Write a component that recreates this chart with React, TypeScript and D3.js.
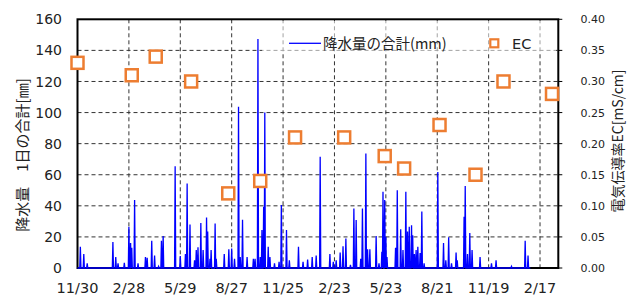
import React from "react";
import * as d3 from "d3";

// rainfall: day index since 2018-11-30 and daily total (mm); other days are 0
const startDate = "2018-11-30";
const endDate = "2021-03-21";
const rainLastDay = 793;
const rainDay = [
  5, 11, 17, 62, 67, 71, 82, 90, 93, 95, 100, 106, 119, 122, 130, 135,
  142, 147, 150, 171, 180, 189, 192, 197, 205, 208, 211, 216, 220, 226, 228, 232, 234, 241, 243, 257, 265, 270, 275,
  282, 285, 289, 297, 308, 311, 316, 320, 323, 326, 328, 334, 337, 345, 353, 357, 366, 371, 387, 395, 403, 411, 418,
  425, 442, 448, 453, 460, 465, 470, 478, 484, 488, 496, 499, 505, 508, 512, 523, 528, 533, 535, 538, 540, 542,
  557, 560, 566, 570, 575, 578, 581, 585, 587, 590, 593, 596, 600, 603, 607, 631, 641, 645, 650, 655, 663, 665,
  677, 679, 683, 687, 691, 705, 725, 733, 760, 784, 789,
];
const rainMm = [
  13.7, 9, 3, 16.7, 7, 3, 3.4, 26.5, 16, 13, 43.7, 3, 7, 6.5, 17.5, 8,
  1, 17.5, 20.5, 65.5, 7.7, 9, 54.4, 28, 5, 11.6, 13.3, 29, 11.6, 32.5, 23.5, 6, 11.6, 28.7, 6, 9, 12, 12.5, 6,
  103.7, 7, 31, 7, 6, 6, 147.4, 7, 24.4, 39.4, 100, 13.7, 7, 3, 4, 40.5, 24.4, 5, 13.7, 4, 5.5, 7, 8,
  71.5, 9, 4, 5, 10, 14, 19, 2, 38.3, 30.8, 6, 38.3, 73.7, 12, 12, 20.5, 3, 10.5, 49, 43.7, 20, 7,
  13, 50, 25, 11.6, 49, 23.5, 26.5, 27.5, 21, 9, 11.6, 13.7, 9.7, 36.4, 3, 61.7, 16, 5, 19.7, 3, 10, 5,
  33, 52.7, 9, 22.5, 11.6, 7, 3, 5, 1, 17.5, 8,
];

// EC samples
const ecDates = [
  "2018-11-30", "2019-03-05", "2019-04-16", "2019-06-17", "2019-08-21", "2019-10-16", "2019-12-16",
  "2020-03-11", "2020-05-21", "2020-06-24", "2020-08-25", "2020-10-27", "2020-12-15", "2021-03-10",
];
const ecValues = [0.33, 0.31, 0.34, 0.30, 0.12, 0.14, 0.21, 0.21, 0.18, 0.16, 0.23, 0.15, 0.30, 0.28];

const xTickDates = [
  "2018-11-30", "2019-02-28", "2019-05-29", "2019-08-27", "2019-11-25",
  "2020-02-23", "2020-05-23", "2020-08-21", "2020-11-19", "2021-02-17",
];
const leftTicks = [0, 20, 40, 60, 80, 100, 120, 140, 160];
const rightTicks = [0, 0.05, 0.1, 0.15, 0.2, 0.25, 0.3, 0.35, 0.4];

const parse = d3.timeParse("%Y-%m-%d");
const fmt = d3.timeFormat("%-m/%-d");
const latin = "'DejaVu Sans', 'Noto Sans CJK JP', sans-serif";
const cjk = "'Noto Sans CJK JP', 'DejaVu Sans', sans-serif";

export default function App() {
  const W = 627, H = 296;
  const left = 77.5, right = 558.3, top = 19.3, bottom = 268;

  const t0 = parse(startDate)!;
  const x = d3.scaleTime().domain([t0, parse(endDate)!]).range([left, right]);
  const yL = d3.scaleLinear().domain([0, 160]).range([bottom, top]);
  const yR = d3.scaleLinear().domain([0, 0.4]).range([bottom, top]);

  const rainMap = new Map(rainDay.map((d, i) => [d, rainMm[i]]));
  const daily = d3.range(rainLastDay + 1).map((d) => ({
    date: d3.timeDay.offset(t0, d),
    v: rainMap.get(d) ?? 0,
  }));
  const line = d3.line<{ date: Date; v: number }>()
    .x((d) => x(d.date))
    .y((d) => yL(d.v));

  const sq = 12;

  return (
    <svg width={W} height={H} style={{ position: "absolute", left: 0, top: 0, background: "#fff" }}>
      {/* grid */}
      {leftTicks.slice(1, -1).map((t) => (
        <line key={"h" + t} x1={left} x2={right} y1={yL(t)} y2={yL(t)}
          stroke="#333" strokeWidth={1} strokeDasharray="4,3" />
      ))}
      {xTickDates.slice(1).map((s) => (
        <line key={"v" + s} x1={x(parse(s)!)} x2={x(parse(s)!)} y1={top} y2={bottom}
          stroke="#333" strokeWidth={1} strokeDasharray="4,3" />
      ))}

      {/* legend backdrop */}
      <rect x={262} y={21} width={294} height={33} fill="#fff" opacity={0.55} />

      {/* frame */}
      <rect x={left} y={top} width={right - left} height={bottom - top} fill="none" stroke="#000" strokeWidth={2} />

      {/* rainfall */}
      <path d={line(daily) ?? ""} fill="none" stroke="#0000ff" strokeWidth={1.3} />

      {/* EC */}
      {ecDates.map((s, i) => (
        <rect key={s} x={x(parse(s)!) - sq / 2} y={yR(ecValues[i]) - sq / 2} width={sq} height={sq}
          fill="#fff" stroke="#ed7d31" strokeWidth={2.5} />
      ))}

      {/* left axis labels */}
      {leftTicks.map((t) => (
        <text key={"l" + t} x={62} y={yL(t)} dy="0.36em" textAnchor="end"
          fontFamily={latin} fontSize={14} fill="#222">{t}</text>
      ))}
      {/* right axis labels */}
      {rightTicks.map((t) => (
        <g key={"r" + t}>
          <line x1={right} x2={right + 4} y1={yR(t)} y2={yR(t)} stroke="#000" strokeWidth={1} />
          <text x={605} y={yR(t)} dy="0.36em" textAnchor="end"
            fontFamily={latin} fontSize={11} fill="#222">{t.toFixed(2)}</text>
        </g>
      ))}
      {/* x axis labels */}
      {xTickDates.map((s) => (
        <text key={"x" + s} x={x(parse(s)!)} y={287.5} dy="0.36em" textAnchor="middle"
          fontFamily={latin} fontSize={14.5} fill="#222">{fmt(parse(s)!)}</text>
      ))}

      {/* axis titles */}
      <text transform="translate(23,155) rotate(-90)" textAnchor="middle" dy="0.36em"
        fontFamily={cjk} fontSize={15} fill="#222">降水量　1日の合計[㎜]</text>
      <text transform="translate(618,141) rotate(-90)" textAnchor="middle" dy="0.36em"
        fontFamily={cjk} fontSize={14} fill="#222">電気伝導率EC[mS/cm]</text>

      {/* legend */}
      <line x1={289} x2={321} y1={43.3} y2={43.3} stroke="#0000ff" strokeWidth={1.3} />
      <text x={323} y={43.3} dy="0.36em" fontFamily={cjk} fontSize={14.5} fill="#222">降水量の合計(mm)</text>
      <rect x={494.3 - 4} y={43.3 - 4} width={8} height={8} fill="#fff" stroke="#ed7d31" strokeWidth={2.2} />
      <text x={512} y={43.3} dy="0.36em" fontFamily={latin} fontSize={14.5} fill="#222">EC</text>
    </svg>
  );
}
